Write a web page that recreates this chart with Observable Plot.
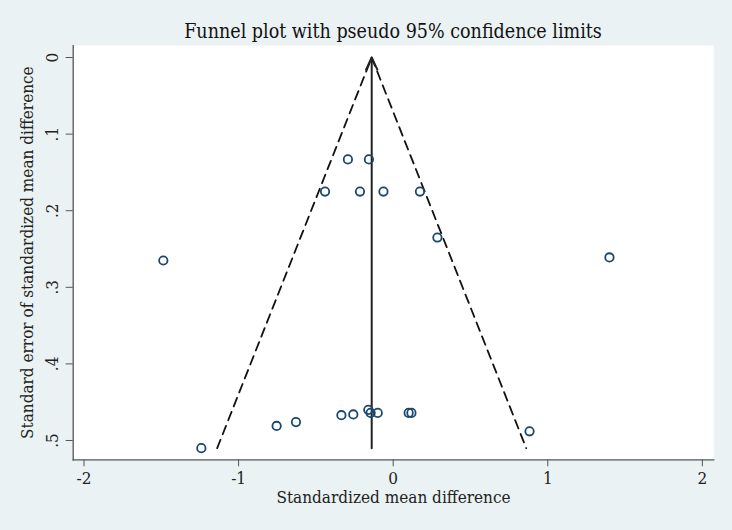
<!DOCTYPE html>
<html>
<head>
<meta charset="utf-8">
<script src="https://cdn.jsdelivr.net/npm/d3@7"></script>
<script src="https://cdn.jsdelivr.net/npm/@observablehq/plot@0.6"></script>
<style>
  html, body { margin: 0; padding: 0; background: #eaf2f3; }
  #wrap { width: 732px; height: 530px; background: #eaf2f3; }
  #title { height: 45px; width: 732px; box-sizing: border-box; padding-left: 54px;
           text-align: center; font-family: "DejaVu Serif Condensed", "DejaVu Serif", serif;
           font-size: 19.5px; line-height: 20px; padding-top: 22px; color: #111; }
</style>
</head>
<body>
<div id="wrap">
  <div id="title">Funnel plot with pseudo 95% confidence limits</div>
  <div id="chart"></div>
</div>
<script>
// Study effects (standardized mean difference) and their standard errors
const effect = [-0.293, -0.157, -0.441, -0.215, -0.063, 0.173, 0.286,
                -1.487, 1.399,
                -1.241, -0.754, -0.629, -0.335, -0.258, -0.161, -0.146, -0.100, 0.100, 0.118, 0.882];
const se     = [0.133, 0.133, 0.175, 0.175, 0.175, 0.175, 0.235,
                0.265, 0.261,
                0.510, 0.481, 0.476, 0.467, 0.466, 0.460, 0.464, 0.464, 0.464, 0.464, 0.488];
const pooled = -0.139;   // pooled estimate (vertical line)
const maxSE = 0.51;      // bottom of the funnel
const z = 1.96;
const xTicks = [-2, -1, 0, 1, 2];
const yTicks = [0, 0.1, 0.2, 0.3, 0.4, 0.5];

const studies = effect.map((e, i) => ({effect: e, se: se[i]}));
const funnel = [
  {x: pooled - z * maxSE, y: maxSE},
  {x: pooled, y: 0},
  {x: pooled + z * maxSE, y: maxSE}
];
const fmtY = d => d === 0 ? "0" : d3.format(".1f")(d).replace("0.", ".");
const font = "'DejaVu Serif Condensed', 'DejaVu Serif', serif";

const chart = Plot.plot({
  width: 732,
  height: 485,
  marginTop: 0,
  marginBottom: 70.7,
  marginLeft: 72.7,
  marginRight: 18.7,
  style: {background: "transparent", fontFamily: font, fontSize: "16px", color: "#222"},
  x: {domain: [-2.07, 2.074], label: null},
  y: {domain: [-0.0157, 0.5252], reverse: true, label: null},
  marks: [
    Plot.frame({fill: "white", stroke: "none"}),
    Plot.frame({anchor: "bottom", stroke: "#555", strokeWidth: 1.3}),
    Plot.frame({anchor: "left", stroke: "#555", strokeWidth: 1.3}),
    Plot.axisX({ticks: xTicks, tickFormat: d => String(d), tickSize: 7, tickPadding: 5,
                stroke: "#555", fontSize: 17, label: null}),
    Plot.axisY({ticks: yTicks, tickFormat: () => "", tickSize: 7, stroke: "#555", label: null}),
    Plot.text(yTicks, {y: d => d, text: fmtY, frameAnchor: "left", dx: -15, rotate: -90,
                       textAnchor: "middle", lineAnchor: "bottom", fontSize: 17, fill: "#222"}),
    Plot.text(["Standard error of standardized mean difference"], {frameAnchor: "left", dx: -46,
                       rotate: -90, textAnchor: "middle", lineAnchor: "middle", fontSize: 17, fill: "#222"}),
    Plot.text(["Standardized mean difference"], {frameAnchor: "bottom", dy: 38,
                       textAnchor: "middle", lineAnchor: "middle", fontSize: 17, fill: "#222"}),
    Plot.line(funnel, {x: "x", y: "y", stroke: "#111", strokeWidth: 1.8, strokeDasharray: "9,6"}),
    Plot.arrow([{x: pooled, y1: maxSE, y2: 0}], {x1: "x", x2: "x", y1: "y1", y2: "y2",
                       stroke: "#222", strokeWidth: 2, headLength: 10, headAngle: 50, insetEnd: 0}),
    Plot.dot(studies, {x: "effect", y: "se", r: 4.2, stroke: "#1a476f", strokeWidth: 1.8, fill: "none"})
  ]
});
document.getElementById("chart").appendChild(chart);
</script>
</body>
</html>
